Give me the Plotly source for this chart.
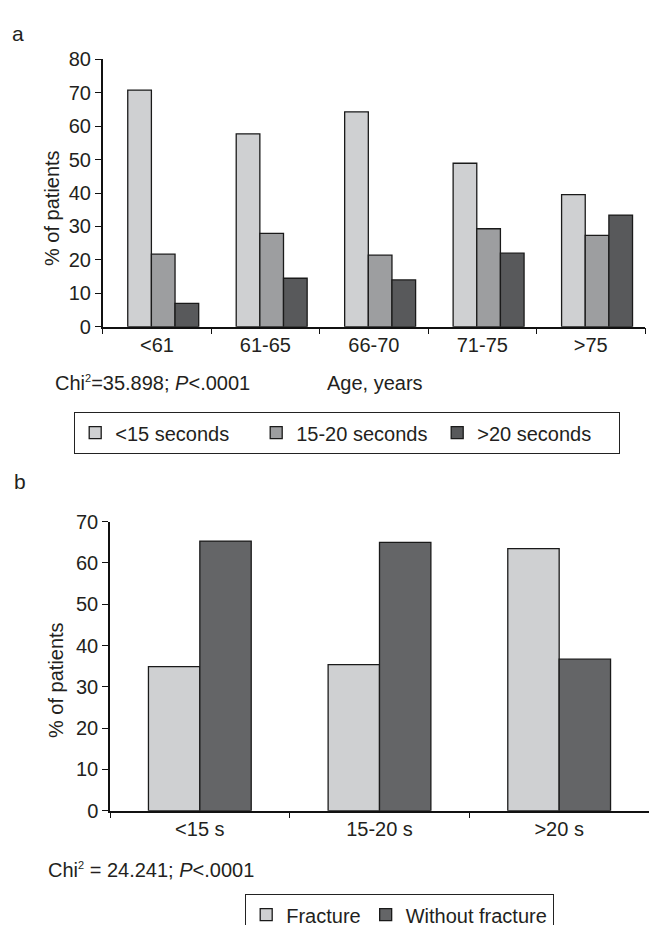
import plotly.graph_objects as go

W, H = 649, 925

# ---- Panel a data ----
age_groups = ["<61", "61-65", "66-70", "71-75", ">75"]
a_lt15 = [70.8, 57.7, 64.3, 48.9, 39.5]
a_15_20 = [21.7, 27.9, 21.4, 29.3, 27.3]
a_gt20 = [7.0, 14.5, 14.0, 22.0, 33.4]
a_series_names = ["<15 seconds", "15-20 seconds", ">20 seconds"]

# ---- Panel b data ----
time_groups = ["<15 s", "15-20 s", ">20 s"]
b_fracture = [34.9, 35.4, 63.5]
b_without = [65.3, 65.0, 36.7]
b_series_names = ["Fracture", "Without fracture"]

FONT = "Liberation Sans, Arial, Helvetica, sans-serif"
TXT = "#231f20"
C_LIGHT = "#cfd0d2"
C_MED = "#9d9ea0"
C_DARK = "#58595b"
C_DARK_B = "#646567"
OUT = "#1a1a1a"

def px_x(x):
    return x / W

def px_y(y):
    return 1 - y / H

fig = go.Figure()

# panel a bars
a_vals = [a_lt15, a_15_20, a_gt20]
a_cols = [C_LIGHT, C_MED, C_DARK]
a_w = 0.218
a_offs = [-0.269, -0.051, 0.167]
for name, vals, col, off in zip(a_series_names, a_vals, a_cols, a_offs):
    fig.add_trace(go.Bar(
        x=age_groups, y=vals, name=name, xaxis="x", yaxis="y",
        marker=dict(color=col, line=dict(color=OUT, width=1.3)),
        width=a_w, offset=off, legend="legend",
    ))

# panel b bars
b_vals = [b_fracture, b_without]
b_cols = [C_LIGHT, C_DARK_B]
b_w = 0.286
b_offs = [-0.286, 0.0]
for name, vals, col, off in zip(b_series_names, b_vals, b_cols, b_offs):
    fig.add_trace(go.Bar(
        x=time_groups, y=vals, name=name, xaxis="x2", yaxis="y2",
        marker=dict(color=col, line=dict(color=OUT, width=1.3)),
        width=b_w, offset=off, legend="legend2",
    ))

axis_common = dict(
    showline=True, linecolor="#111", linewidth=1.5, showgrid=False,
    zeroline=False, ticks="outside", ticklen=6, tickwidth=1, tickcolor="#111",
    tickfont=dict(family=FONT, size=20, color=TXT), fixedrange=True,
)

fig.update_layout(
    width=W, height=H,
    margin=dict(l=0, r=0, t=0, b=0, autoexpand=False),
    paper_bgcolor="white", plot_bgcolor="white",
    barmode="overlay",
    font=dict(family=FONT, size=20, color=TXT),
    xaxis=dict(domain=[px_x(102.7), px_x(645)], anchor="y",
               range=[-0.5, 4.5], tickson="boundaries", type="category", **axis_common),
    yaxis=dict(domain=[px_y(326.7), px_y(59.3)], anchor="x",
               range=[0, 80], dtick=10, **axis_common),
    xaxis2=dict(domain=[px_x(110), 1.0], anchor="y2",
                range=[-0.5, 2.5], tickson="boundaries", type="category", **axis_common),
    yaxis2=dict(domain=[px_y(810.7), px_y(521.7)], anchor="x2",
                range=[0, 70], dtick=10, **axis_common),
    legend=dict(
        orientation="h", x=px_x(74), y=px_y(412), xanchor="left", yanchor="top",
        bordercolor="#222", borderwidth=1.2, bgcolor="white",
        font=dict(family=FONT, size=20, color=TXT), entrywidth=136,
        traceorder="normal",
    ),
    legend2=dict(
        orientation="h", x=px_x(245), y=px_y(894), xanchor="left", yanchor="top",
        bordercolor="#222", borderwidth=1.2, bgcolor="white",
        font=dict(family=FONT, size=20, color=TXT),
        traceorder="normal",
    ),
    showlegend=True,
)

SUP2 = "<sup><span style='font-size:11px'>2</span></sup>"
ann = [
    dict(text="a", x=px_x(10), y=px_y(34), xanchor="left", yanchor="middle", font=dict(size=21)),
    dict(text="b", x=px_x(12), y=px_y(481), xanchor="left", yanchor="middle", font=dict(size=21)),
    dict(text="Chi" + SUP2 + "=35.898; <i>P</i>&lt;.0001", x=px_x(53), y=px_y(383),
         xanchor="left", yanchor="middle"),
    dict(text="Age, years", x=px_x(325), y=px_y(383), xanchor="left", yanchor="middle"),
    dict(text="Chi" + SUP2 + " = 24.241; <i>P</i>&lt;.0001", x=px_x(45.7), y=px_y(870),
         xanchor="left", yanchor="middle"),
    dict(text="% of patients", x=px_x(52), y=px_y(208), textangle=-90,
         xanchor="center", yanchor="middle"),
    dict(text="% of patients", x=px_x(56), y=px_y(680), textangle=-90,
         xanchor="center", yanchor="middle"),
]
for a in ann:
    a.update(xref="paper", yref="paper", showarrow=False)
    a.setdefault("font", {})
    a["font"] = dict(family=FONT, color=TXT, size=a["font"].get("size", 20))
fig.update_layout(annotations=ann)

fig.write_html(
    "out.html",
    config={"displayModeBar": False},
    post_script="document.body.style.margin='0';document.body.style.overflow='hidden';",
)
